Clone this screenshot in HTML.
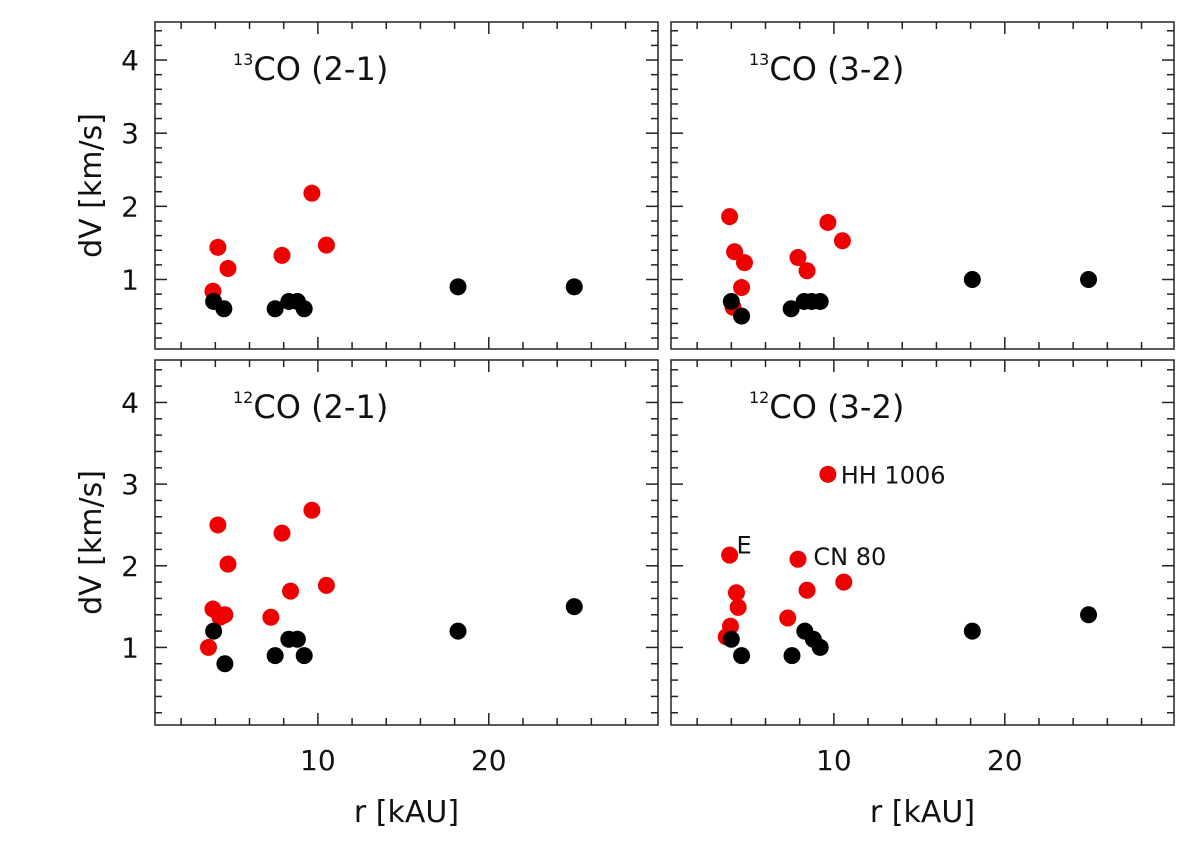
<!DOCTYPE html>
<html><head><meta charset="utf-8"><style>
body{margin:0;background:#fff;}
svg{display:block;font-family:"DejaVu Sans","Liberation Sans",sans-serif;}
</style></head><body>
<svg id="chart" width="1200" height="859" viewBox="0 0 1200 859"></svg>
<script>
// x-axis / y-axis ticks
const xMajor = [10, 20];
const yMajor = [1, 2, 3, 4];
// Panel titles
const panelTitles = [["13","CO (2-1)"],["13","CO (3-2)"],["12","CO (2-1)"],["12","CO (3-2)"]];
// Red series (x in kAU, y dV)
const redX0 = [3.86, 4.15, 4.74, 7.9, 9.65, 10.5];
const redY0 = [0.84, 1.44, 1.15, 1.33, 2.18, 1.47];
const redX1 = [3.9, 4.19, 4.77, 4.6, 4.1, 7.9, 8.43, 9.65, 10.5];
const redY1 = [1.86, 1.38, 1.23, 0.89, 0.62, 1.3, 1.12, 1.78, 1.53];
const redX2 = [3.6, 3.86, 4.15, 4.27, 4.56, 4.74, 7.25, 7.9, 8.4, 9.65, 10.5];
const redY2 = [1.0, 1.47, 2.5, 1.37, 1.4, 2.02, 1.37, 2.4, 1.69, 2.68, 1.76];
const redX3 = [3.7, 3.95, 3.9, 4.3, 4.4, 7.3, 7.9, 8.43, 9.65, 10.58];
const redY3 = [1.13, 1.26, 2.13, 1.67, 1.49, 1.36, 2.08, 1.7, 3.12, 1.8];
// Black series
const blkX0 = [3.9, 4.5, 7.5, 8.3, 8.8, 9.2, 18.2, 25];
const blkY0 = [0.7, 0.6, 0.6, 0.7, 0.7, 0.6, 0.9, 0.9];
const blkX1 = [4.0, 4.6, 7.5, 8.26, 8.7, 9.2, 18.1, 24.9];
const blkY1 = [0.7, 0.5, 0.6, 0.7, 0.7, 0.7, 1.0, 1.0];
const blkX2 = [3.9, 4.56, 7.5, 8.3, 8.8, 9.2, 18.2, 25];
const blkY2 = [1.2, 0.8, 0.9, 1.1, 1.1, 0.9, 1.2, 1.5];
const blkX3 = [4.0, 4.6, 7.55, 8.3, 8.8, 9.2, 18.1, 24.9];
const blkY3 = [1.1, 0.9, 0.9, 1.2, 1.1, 1.0, 1.2, 1.4];
// annotations
const annText = ["HH 1006", "E", "CN 80"];
const annX = [10.4, 4.3, 8.8];
const annY = [3.12, 2.26, 2.12];

const redX=[redX0,redX1,redX2,redX3], redY=[redY0,redY1,redY2,redY3];
const blkX=[blkX0,blkX1,blkX2,blkX3], blkY=[blkY0,blkY1,blkY2,blkY3];
const NS="http://www.w3.org/2000/svg";
const svg=document.getElementById('chart');
function mk(tag,attrs,parent){const e=document.createElementNS(NS,tag);for(const k in attrs)e.setAttribute(k,attrs[k]);(parent||svg).appendChild(e);return e;}
const XMIN=0.47,XMAX=29.9,YMIN=0.05,YMAX=4.52;
const panels=[{l:155,r:658,t:22,b:349},{l:671,r:1174,t:22,b:349},{l:155,r:658,t:360,b:725},{l:671,r:1174,t:360,b:725}];
panels.forEach((p,i)=>{
  const g=mk('g',{});
  
  
  const sx=v=>p.l+(v-XMIN)/(XMAX-XMIN)*(p.r-p.l);
  const sy=v=>p.b-(v-YMIN)/(YMAX-YMIN)*(p.b-p.t);
  const fr=mk('rect',{x:p.l,y:p.t,width:p.r-p.l,height:p.b-p.t,fill:'none',stroke:'#222','stroke-width':1.5},g);
  
  
  for(let v=2;v<XMAX;v+=2){
    const maj=xMajor.includes(v)||v%10===0; const L=maj?12:7; const x=sx(v);
    mk('line',{x1:x,x2:x,y1:p.b,y2:p.b-L,stroke:'#222','stroke-width':1.5},g);
    mk('line',{x1:x,x2:x,y1:p.t,y2:p.t+L,stroke:'#222','stroke-width':1.5},g);
  }
  for(let k=1;k*0.2<YMAX;k++){
    const v=k*0.2; const maj=Math.abs(v-Math.round(v))<1e-6; const L=maj?12:7; const y=sy(v);
    mk('line',{x1:p.l,x2:p.l+L,y1:y,y2:y,stroke:'#222','stroke-width':1.5},g);
    mk('line',{x1:p.r,x2:p.r-L,y1:y,y2:y,stroke:'#222','stroke-width':1.5},g);
  }
  if(i>=2){
    xMajor.forEach(v=>{const t=mk('text',{x:sx(v),y:p.b+45,'font-size':28,'text-anchor':'middle',fill:'#111'},g);t.textContent=v;
      });
    const xl=mk('text',{x:(p.l+p.r)/2,y:822,'font-size':30,'text-anchor':'middle',fill:'#111'},g);xl.textContent='r [kAU]';
    
  }
  if(i%2===0){
    yMajor.forEach(v=>{const t=mk('text',{x:p.l-16,y:sy(v)+10,'font-size':28,'text-anchor':'end',fill:'#111'},g);t.textContent=v;
      });
    const cy=(p.t+p.b)/2;
    const yl=mk('text',{x:101,y:cy,'font-size':30,'text-anchor':'middle',fill:'#111',transform:`rotate(-90 101 ${cy})`},g);yl.textContent='dV [km/s]';
    
  }
  const tt=mk('text',{x:p.l+78,y:p.t+58,fill:'#111','font-size':32},g);
  
  const s1=mk('tspan',{'font-size':16,dy:-15},tt);s1.textContent=panelTitles[i][0];
  const s2=mk('tspan',{dy:15},tt);s2.textContent=panelTitles[i][1];
  redX[i].forEach((x,j)=>{const c=mk('circle',{cx:sx(x),cy:sy(redY[i][j]),r:8.5,fill:'#ee0000'},g);
    });
  blkX[i].forEach((x,j)=>{const c=mk('circle',{cx:sx(x),cy:sy(blkY[i][j]),r:8.5,fill:'#000'},g);
    });
  if(i===3){
    annText.forEach((s,j)=>{const t=mk('text',{x:sx(annX[j]),y:sy(annY[j])+9,'font-size':24,fill:'#111'},g);t.textContent=s;
      });
  }
});
</script>
</body></html>
